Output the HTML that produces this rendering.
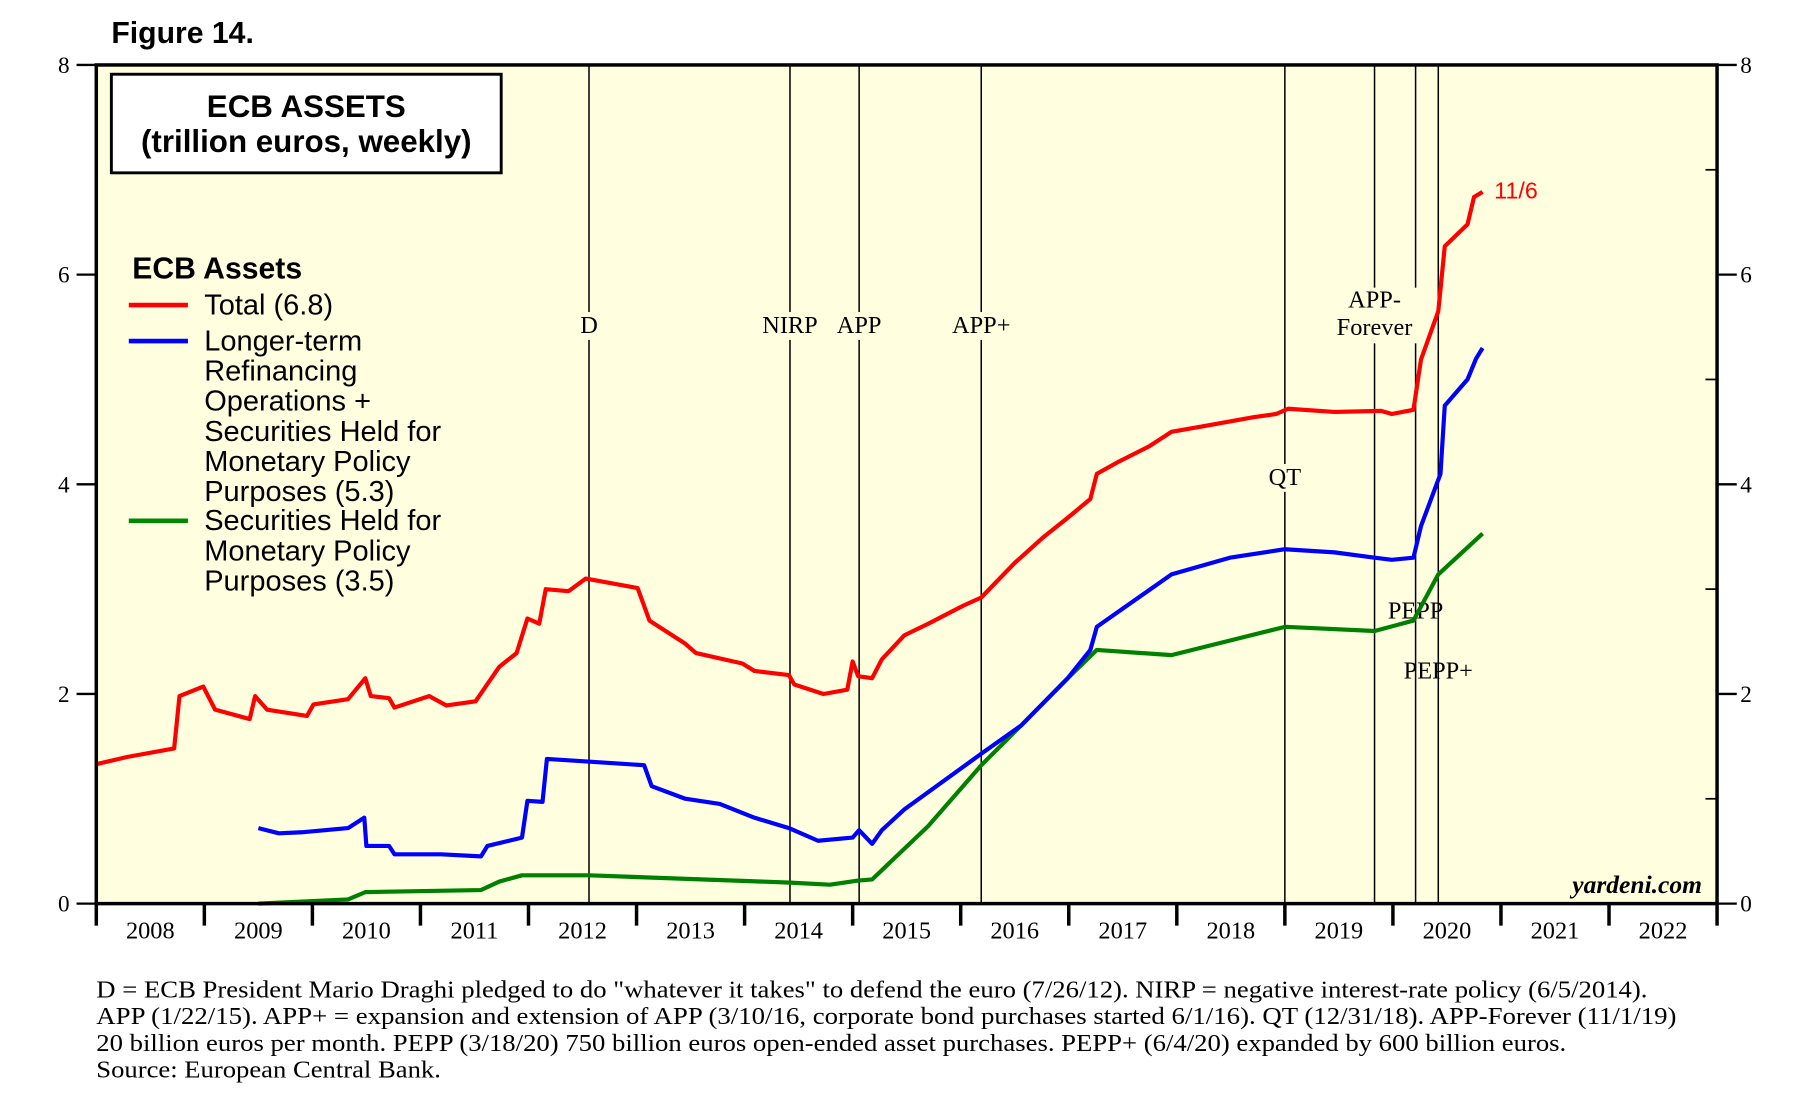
<!DOCTYPE html>
<html><head><meta charset="utf-8"><style>
html,body{margin:0;padding:0;background:#fff;}
svg{display:block;}
.s{font-family:"Liberation Serif",serif;}
.a{font-family:"Liberation Sans",sans-serif;}
</style></head><body>
<svg id="c" width="1818" height="1095" viewBox="0 0 1567 944" preserveAspectRatio="none" xmlns="http://www.w3.org/2000/svg">
<rect x="83" y="56" width="1397" height="723" fill="#ffffe0"/>
<g id="events"></g>
<g id="series"></g>
<rect x="83" y="56" width="1397" height="723" fill="none" stroke="#000" stroke-width="3"/>
<g id="axes"></g>
<text x="96" y="37" class="a" font-size="26" font-weight="bold">Figure 14.</text>
<rect x="96" y="64" width="336" height="85" fill="#fff" stroke="#000" stroke-width="2.5"/>
<text x="264" y="101" class="a" font-size="27" font-weight="bold" text-anchor="middle">ECB ASSETS</text>
<text x="264" y="131" class="a" font-size="27" font-weight="bold" text-anchor="middle">(trillion euros, weekly)</text>
<g class="a" font-size="25">
<text x="114" y="240" font-size="26" font-weight="bold">ECB Assets</text>
<line x1="111" y1="263" x2="162" y2="263" stroke="#f00" stroke-width="4"/>
<text x="176" y="271">Total (6.8)</text>
<line x1="111" y1="294" x2="162" y2="294" stroke="#00f" stroke-width="4"/>
<text x="176" y="302"><tspan x="176">Longer-term</tspan><tspan x="176" dy="26">Refinancing</tspan><tspan x="176" dy="26">Operations +</tspan><tspan x="176" dy="26">Securities Held for</tspan><tspan x="176" dy="26">Monetary Policy</tspan><tspan x="176" dy="26">Purposes (5.3)</tspan></text>
<line x1="111" y1="449" x2="162" y2="449" stroke="#080" stroke-width="4"/>
<text x="176" y="457"><tspan x="176">Securities Held for</tspan><tspan x="176" dy="26">Monetary Policy</tspan><tspan x="176" dy="26">Purposes (3.5)</tspan></text>
</g>
<text x="1288" y="171" class="a" font-size="20" fill="#f00">11/6</text>
<text x="1467" y="770" class="s" font-size="22" font-weight="bold" font-style="italic" text-anchor="end">yardeni.com</text>
<g class="s" font-size="21">
<text x="83" y="860" textLength="1337" lengthAdjust="spacingAndGlyphs">D = ECB President Mario Draghi pledged to do "whatever it takes" to defend the euro (7/26/12). NIRP = negative interest-rate policy (6/5/2014).</text>
<text x="83" y="883" textLength="1362" lengthAdjust="spacingAndGlyphs">APP (1/22/15). APP+ = expansion and extension of APP (3/10/16, corporate bond purchases started 6/1/16). QT (12/31/18). APP-Forever (11/1/19)</text>
<text x="83" y="906" textLength="1267" lengthAdjust="spacingAndGlyphs">20 billion euros per month. PEPP (3/18/20) 750 billion euros open-ended asset purchases. PEPP+ (6/4/20) expanded by 600 billion euros.</text>
<text x="83" y="929" textLength="297" lengthAdjust="spacingAndGlyphs">Source: European Central Bank.</text>
</g>
</svg>
<script>
const yTicks=[0,2,4,6,8];
const years=[2008,2009,2010,2011,2012,2013,2014,2015,2016,2017,2018,2019,2020,2021,2022];
const eventNames=["D","NIRP","APP","APP+","QT","APP-Forever","PEPP","PEPP+"];
const eventDates=[2012.56,2014.42,2015.06,2016.19,2019.0,2019.83,2020.21,2020.42];
const totalX=[2008,2008.29,2008.72,2008.77,2008.99,2009.10,2009.42,2009.47,2009.58,2009.95,2010.01,2010.33,2010.49,2010.54,2010.71,2010.76,2011.08,2011.24,2011.51,2011.73,2011.89,2011.99,2012.10,2012.16,2012.37,2012.53,2013.01,2013.12,2013.45,2013.55,2013.98,2014.09,2014.41,2014.46,2014.73,2014.95,2015.00,2015.05,2015.18,2015.27,2015.48,2015.70,2016.02,2016.19,2016.50,2016.77,2016.99,2017.20,2017.26,2017.47,2017.74,2017.95,2018.28,2018.71,2018.92,2019.03,2019.46,2019.89,2019.99,2020.19,2020.26,2020.42,2020.48,2020.69,2020.75,2020.83];
const totalV=[1.33,1.4,1.48,1.98,2.07,1.85,1.76,1.98,1.85,1.79,1.9,1.95,2.15,1.98,1.96,1.87,1.98,1.89,1.93,2.26,2.39,2.72,2.67,3.0,2.98,3.1,3.01,2.7,2.48,2.39,2.29,2.22,2.18,2.09,2.0,2.04,2.31,2.17,2.15,2.33,2.56,2.67,2.84,2.92,3.25,3.5,3.68,3.86,4.1,4.22,4.36,4.5,4.56,4.64,4.67,4.72,4.69,4.7,4.67,4.71,5.19,5.65,6.27,6.48,6.74,6.79];
const ltroX=[2009.50,2009.69,2009.90,2010.33,2010.48,2010.50,2010.71,2010.76,2011.19,2011.56,2011.62,2011.94,2011.99,2012.13,2012.17,2012.48,2013.07,2013.14,2013.45,2013.77,2014.09,2014.41,2014.68,2015.00,2015.06,2015.18,2015.27,2015.48,2016.19,2016.56,2016.99,2017.20,2017.26,2017.95,2018.49,2019.00,2019.46,2019.83,2019.99,2020.19,2020.26,2020.44,2020.48,2020.69,2020.77,2020.83];
const ltroV=[0.72,0.67,0.68,0.72,0.82,0.55,0.55,0.47,0.47,0.45,0.55,0.63,0.98,0.97,1.38,1.36,1.32,1.12,1.0,0.95,0.82,0.72,0.6,0.63,0.7,0.57,0.7,0.9,1.43,1.7,2.15,2.42,2.64,3.14,3.3,3.38,3.35,3.3,3.28,3.3,3.6,4.1,4.75,5.0,5.2,5.3];
const secX=[2009.50,2010.33,2010.49,2011.56,2011.73,2011.94,2012.56,2014.42,2014.79,2015.05,2015.18,2015.70,2016.19,2016.56,2016.99,2017.26,2017.95,2019.00,2019.83,2020.19,2020.42,2020.83];
const secV=[0.0,0.04,0.11,0.13,0.21,0.27,0.27,0.2,0.18,0.22,0.23,0.74,1.32,1.7,2.15,2.42,2.37,2.64,2.6,2.7,3.14,3.53];
const NS="http://www.w3.org/2000/svg";
const X0=83,X1=1480,Y0=779,Y1=56;
function xs(t){return X0+(t-2008)/15*(X1-X0);}
function ys(v){return Y0-v/8*(Y0-Y1);}
function mk(tag,attrs,parent){const e=document.createElementNS(NS,tag);for(const k in attrs)e.setAttribute(k,attrs[k]);parent.appendChild(e);return e;}
const axes=document.getElementById('axes'),ev=document.getElementById('events'),se=document.getElementById('series');
yTicks.forEach(v=>{
 const t1=mk('line',{x1:X0-17,x2:X0,y1:ys(v),y2:ys(v),stroke:'#000','stroke-width':2},axes);
 
 
 const t2=mk('line',{x1:X1,x2:X1+17,y1:ys(v),y2:ys(v),stroke:'#000','stroke-width':2},axes);
 
 
 const l=mk('text',{x:60,y:ys(v)+7,'text-anchor':'end','font-size':20,class:'s'},axes);l.textContent=v;
 
 
 const r=mk('text',{x:1500,y:ys(v)+7,'font-size':20,class:'s'},axes);r.textContent=v;
 
 
});
[1,3,5,7].forEach(v=>{
 const t=mk('line',{x1:X1-10,x2:X1,y1:ys(v),y2:ys(v),stroke:'#000','stroke-width':1.5},axes);
 
 
});
for(let i=0;i<=years.length;i++){
 const t=mk('line',{x1:xs(2008+i),x2:xs(2008+i),y1:Y0,y2:Y0+19,stroke:'#000','stroke-width':3},axes);
 
 
}
years.forEach(y=>{
 const l=mk('text',{x:xs(y+0.5),y:809,'text-anchor':'middle','font-size':21,class:'s'},axes);l.textContent=y;
 
 
});
const labY=[287,287,287,287,418,265,533,585];
eventDates.forEach((d,i)=>{
 const x=xs(d);
 const ln=mk('line',{x1:x,x2:x,y1:Y1,y2:Y0,stroke:'#000','stroke-width':1.3},ev);
 
 
});
eventNames.forEach((n,i)=>{
 const x=xs(eventDates[i]);
 if(n==="APP-Forever"){
  mk('rect',{x:x-38,y:248,width:76,height:48,fill:'#ffffe0'},ev);
  const t=mk('text',{x:x,y:265,'text-anchor':'middle','font-size':21,class:'s'},ev);
  t.innerHTML='<tspan x="'+x+'">APP-</tspan><tspan x="'+x+'" dy="24">Forever</tspan>';
  
  
 } else {
  const w=n.length*12+6;
  if(n!=="PEPP"&&n!=="PEPP+") mk('rect',{x:x-w/2,y:labY[i]-18,width:w,height:24,fill:'#ffffe0'},ev);
  const t=mk('text',{x:x,y:labY[i],'text-anchor':'middle','font-size':21,class:'s'},ev);t.textContent=n;
  
  
 }
});
function line(X,V,col,name){
 const d=X.map((t,i)=>(i?'L':'M')+xs(t).toFixed(1)+','+ys(V[i]).toFixed(1)).join('');
 const p=mk('path',{d:d,fill:'none',stroke:col,'stroke-width':3.6,'stroke-linejoin':'round'},se);
 
 
}
line(secX,secV,'#008000','securities-line');
line(ltroX,ltroV,'#0000ff','ltro-securities-line');
line(totalX,totalV,'#ff0000','total-assets-line');
</script>
</body></html>
